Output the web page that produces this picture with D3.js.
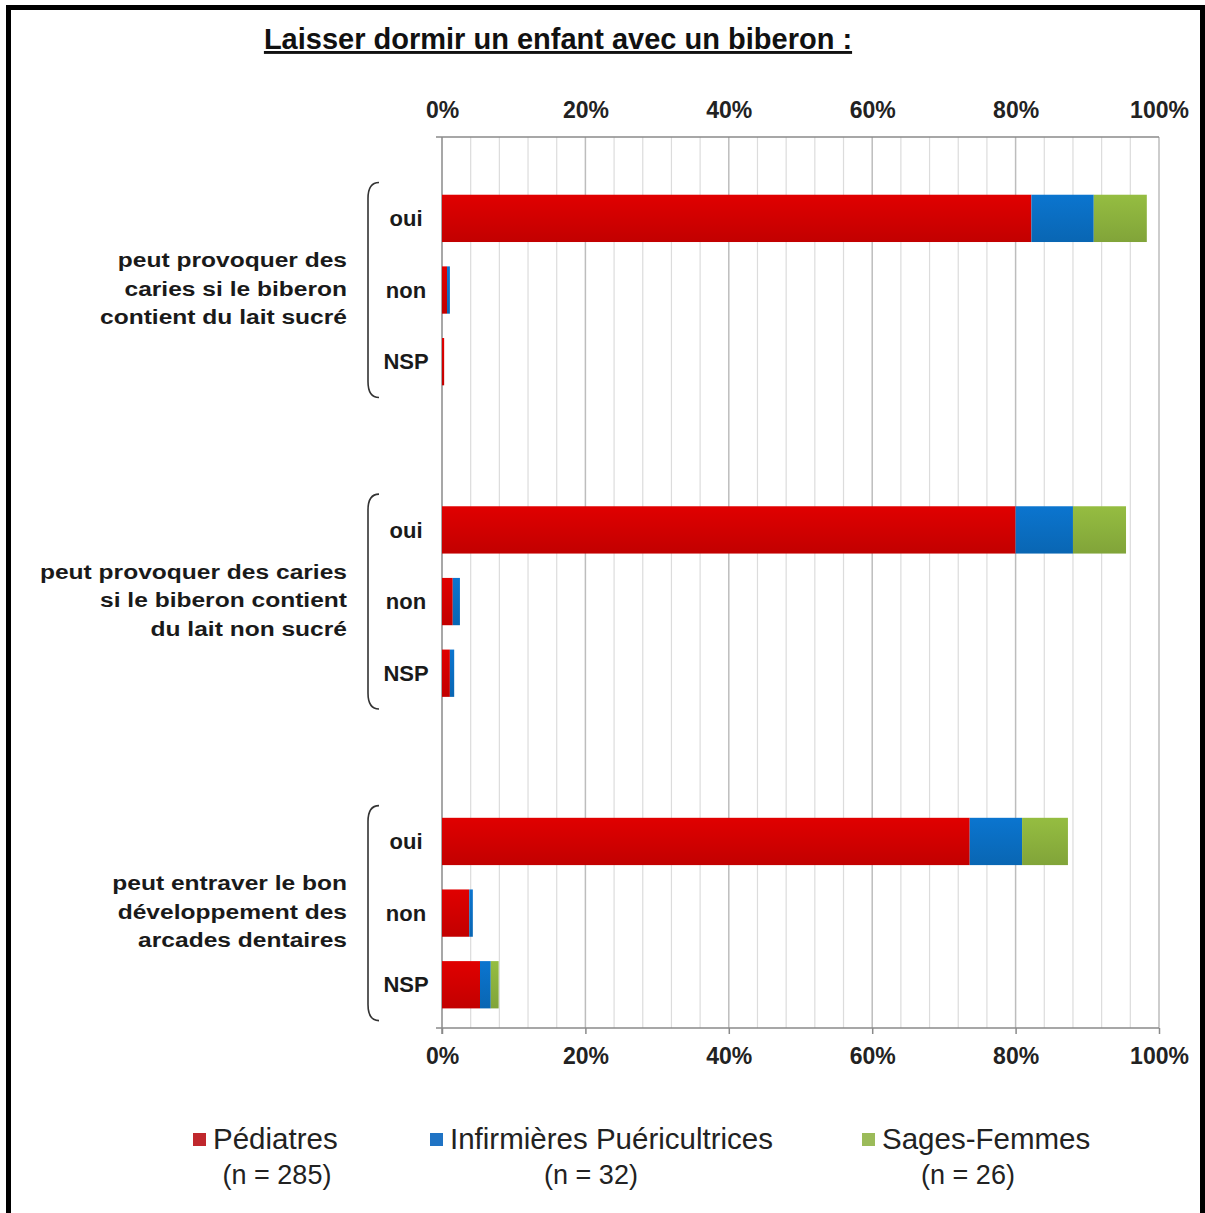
<!DOCTYPE html>
<html>
<head>
<meta charset="utf-8">
<script src="https://cdn.jsdelivr.net/npm/d3@7"></script>
<style>
  body { margin: 0; background: #fff; }
  text { font-family: "Liberation Sans", Arial, sans-serif; }
</style>
</head>
<body>
<div id="chart"></div>
<script>
// Data (percent of respondents)
const title = 'Laisser dormir un enfant avec un biberon :';
const groups = ['sucre', 'nonsucre', 'arcades'];
const groupLabels = [
  ['peut provoquer des', 'caries si le biberon', 'contient du lait sucré'],
  ['peut provoquer des caries', 'si le biberon contient', 'du lait non sucré'],
  ['peut entraver le bon', 'développement des', 'arcades dentaires']
];
const answers = ['oui', 'non', 'NSP'];
const seriesNames = ['Pédiatres', 'Infirmières Puéricultrices', 'Sages-Femmes'];
const seriesCounts = ['(n = 285)', '(n = 32)', '(n = 26)'];
// one value per (group, answer), in order
const pediatres   = [82.2, 0.7, 0.3, 80.0, 1.5, 1.1, 73.6, 3.8, 5.3];
const infirmieres = [8.7, 0.4, 0.0, 8.0, 1.0, 0.6, 7.3, 0.5, 1.5];
const sagesFemmes = [7.4, 0.0, 0.0, 7.4, 0.0, 0.0, 6.4, 0.0, 1.1];
const xTicks = [0, 20, 40, 60, 80, 100];

const width = 1205, height = 1213;
const plot = { left: 442, right: 1159, top: 137, bottom: 1028 };
const colors = ['#d40000', '#0a6fc4', '#8db33e'];
const legendColors = ['#c0282d', '#1f73c4', '#9bbb59'];

const svg = d3.select('#chart').append('svg')
  .attr('width', width)
  .attr('height', height);

// outer frame
svg.append('rect')
  .attr('x', 8.5).attr('y', 7.5)
  .attr('width', 1194).attr('height', 1230)
  .attr('fill', 'none')
  .attr('stroke', '#000')
  .attr('stroke-width', 5);

// Build rows
const rows = [];
groups.forEach((g, gi) => {
  answers.forEach((a, ai) => {
    const i = gi * answers.length + ai;
    rows.push({ group: g, answer: a, values: [pediatres[i], infirmieres[i], sagesFemmes[i]] });
  });
});

// Scales
const x = d3.scaleLinear().domain([0, 100]).range([plot.left, plot.right]);

const yGroup = d3.scaleBand()
  .domain(groups)
  .range([plot.top, plot.bottom])
  .paddingInner(0.31)
  .paddingOuter(0.085)
  .align(0.86);

const yAnswer = d3.scaleBand()
  .domain(answers)
  .range([0, yGroup.bandwidth()])
  .paddingInner(0.34)
  .paddingOuter(0.17);

// Gradients for bars (slight Excel-like shading)
const defs = svg.append('defs');
colors.forEach((c, i) => {
  const grad = defs.append('linearGradient')
    .attr('id', 'grad' + i)
    .attr('x1', 0).attr('y1', 0).attr('x2', 0).attr('y2', 1);
  grad.append('stop').attr('offset', '0%').attr('stop-color', d3.color(c).brighter(0.15));
  grad.append('stop').attr('offset', '100%').attr('stop-color', d3.color(c).darker(0.25));
});

// Gridlines: minor every 4%, major every 20%
const minorTicks = d3.range(4, 100, 4).filter(v => v % 20 !== 0);
svg.append('g').selectAll('line')
  .data(minorTicks)
  .join('line')
  .attr('x1', d => x(d)).attr('x2', d => x(d))
  .attr('y1', plot.top).attr('y2', plot.bottom)
  .attr('stroke', '#dcdcdc')
  .attr('stroke-width', 1.2);

svg.append('g').selectAll('line')
  .data(xTicks.filter(v => v > 0))
  .join('line')
  .attr('x1', d => x(d)).attr('x2', d => x(d))
  .attr('y1', plot.top).attr('y2', plot.bottom)
  .attr('stroke', '#bdbdbd')
  .attr('stroke-width', 1.5);

// Axes
const topAxis = svg.append('g')
  .attr('transform', `translate(0, ${plot.top})`)
  .call(d3.axisTop(x).tickValues(xTicks).tickFormat(d => d + '%').tickSize(0).tickPadding(19).tickSizeOuter(0));

const bottomAxis = svg.append('g')
  .attr('transform', `translate(0, ${plot.bottom})`)
  .call(d3.axisBottom(x).tickValues(xTicks).tickFormat(d => d + '%').tickSize(6).tickPadding(14).tickSizeOuter(0));

[topAxis, bottomAxis].forEach(ax => {
  ax.select('.domain').attr('stroke', '#8a8a8a').attr('stroke-width', 1.5)
    .attr('d', `M${plot.left - 6},0H${plot.right}`);
  ax.selectAll('.tick line').attr('stroke', '#8a8a8a').attr('stroke-width', 1.5);
  ax.selectAll('text')
    .attr('fill', '#222')
    .style('font-size', '23px')
    .style('font-weight', 'bold')
    .style('font-family', '"Liberation Sans", Arial, sans-serif');
});

// left axis line
svg.append('line')
  .attr('x1', plot.left).attr('x2', plot.left)
  .attr('y1', plot.top).attr('y2', plot.bottom + 6)
  .attr('stroke', '#8a8a8a')
  .attr('stroke-width', 1.5);

// Bars
const rowY = d => yGroup(d.group) + yAnswer(d.answer);
const rowG = svg.append('g').selectAll('g')
  .data(rows)
  .join('g')
  .attr('transform', d => `translate(0, ${rowY(d)})`);

rowG.selectAll('rect')
  .data(d => {
    let acc = 0;
    return d.values.map((v, i) => {
      const seg = { x0: acc, x1: acc + v, i };
      acc += v;
      return seg;
    }).filter(s => s.x1 > s.x0);
  })
  .join('rect')
  .attr('x', s => x(s.x0))
  .attr('width', s => x(s.x1) - x(s.x0))
  .attr('y', 0)
  .attr('height', yAnswer.bandwidth())
  .attr('fill', s => `url(#grad${s.i})`);

// Answer labels
rowG.append('text')
  .attr('x', 406)
  .attr('y', yAnswer.bandwidth() / 2)
  .attr('dy', '0.35em')
  .attr('text-anchor', 'middle')
  .attr('fill', '#1a1a1a')
  .style('font-size', '22px')
  .style('font-weight', 'bold')
  .text(d => d.answer);

// Braces and group labels
const gG = svg.append('g').selectAll('g')
  .data(groups)
  .join('g')
  .attr('transform', d => `translate(0, ${yGroup(d)})`);

gG.append('path')
  .attr('d', () => {
    const h = yGroup.bandwidth();
    const xl = 368, xr = 379, r = 16;
    return `M${xr},0 Q${xl},0 ${xl},${r} L${xl},${h - r} Q${xl},${h} ${xr},${h}`;
  })
  .attr('fill', 'none')
  .attr('stroke', '#333')
  .attr('stroke-width', 1.6);

gG.each(function (d, gi) {
  const lines = groupLabels[gi];
  const lh = 28.5;
  const cy = yGroup.bandwidth() / 2;
  // reference text is slightly wider than the font, so stretch horizontally
  d3.select(this).append('text')
    .attr('transform', 'translate(347, 0) scale(1.17, 1)')
    .attr('text-anchor', 'end')
    .attr('fill', '#1a1a1a')
    .style('font-size', '21px')
    .style('font-weight', 'bold')
    .selectAll('tspan')
    .data(lines)
    .join('tspan')
    .attr('x', 0)
    .attr('y', (l, i) => cy - 1.5 + (i - (lines.length - 1) / 2) * lh)
    .attr('dy', '0.35em')
    .text(l => l);
});

// Title
svg.append('text')
  .attr('x', 558)
  .attr('y', 49)
  .attr('text-anchor', 'middle')
  .attr('fill', '#111')
  .style('font-size', '29px')
  .style('text-decoration', 'underline')
  .style('font-weight', '600')
  .text(title);

// Legend
const legendX = [193, 430, 862];
const legendCountX = [277, 591, 968];
const leg = svg.append('g').selectAll('g')
  .data(seriesNames)
  .join('g');

leg.append('rect')
  .attr('x', (d, i) => legendX[i])
  .attr('y', 1133)
  .attr('width', 13).attr('height', 13)
  .attr('fill', (d, i) => legendColors[i]);

leg.append('text')
  .attr('x', (d, i) => legendX[i] + 20)
  .attr('y', 1149)
  .attr('fill', '#222')
  .style('font-size', '29.5px')
  .text(d => d);

leg.append('text')
  .attr('x', (d, i) => legendCountX[i])
  .attr('y', 1184)
  .attr('text-anchor', 'middle')
  .attr('fill', '#222')
  .style('font-size', '27px')
  .text((d, i) => seriesCounts[i]);
</script>
</body>
</html>
